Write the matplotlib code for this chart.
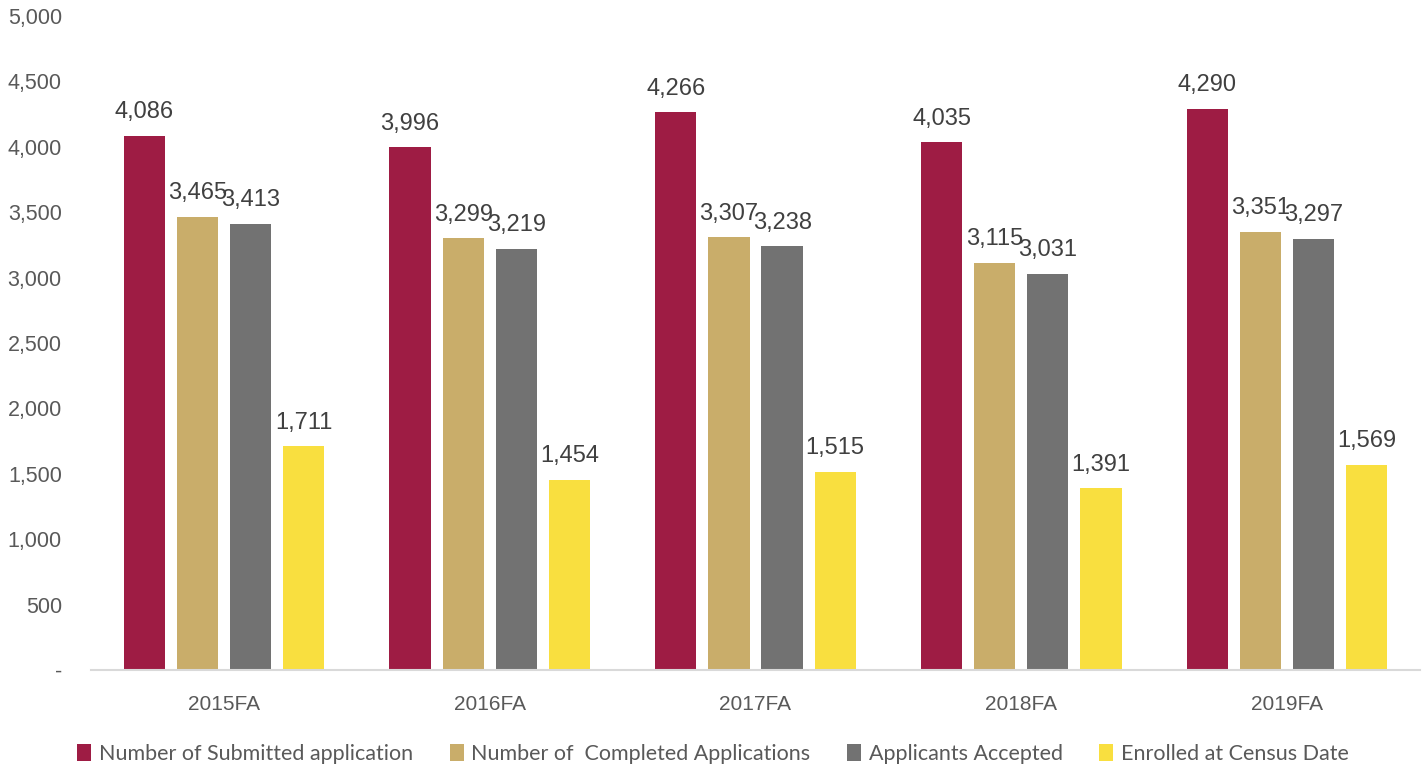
import matplotlib
matplotlib.use("Agg")
import matplotlib.pyplot as plt
from matplotlib.patches import Patch
import numpy as np

terms = ["2015FA", "2016FA", "2017FA", "2018FA", "2019FA"]
submitted = [4086, 3996, 4266, 4035, 4290]
completed = [3465, 3299, 3307, 3115, 3351]
accepted = [3413, 3219, 3238, 3031, 3297]
enrolled = [1711, 1454, 1515, 1391, 1569]

series_names = ["Number of Submitted application", "Number of  Completed Applications",
                "Applicants Accepted", "Enrolled at Census Date"]
colors = ["#9E1C44", "#C9AD6A", "#727272", "#F9DF3F"]
yticks = [0, 500, 1000, 1500, 2000, 2500, 3000, 3500, 4000, 4500, 5000]

text_color = "#595959"
fig = plt.figure(figsize=(14.26, 7.7), dpi=100)
ax = fig.add_axes([91 / 1426, 100 / 770, 1329 / 1426, 654 / 770])

x = np.arange(len(terms))
offsets = [-0.3, -0.1, 0.1, 0.3]
width = 0.155
for vals, off, col in zip([submitted, completed, accepted, enrolled], offsets, colors):
    bars = ax.bar(x + off, vals, width=width, color=col, zorder=2)
    for b, v in zip(bars, vals):
        ax.annotate(f"{v:,}", (b.get_x() + b.get_width() / 2, v), xytext=(0, 9),
                    textcoords="offset points", ha="center", va="bottom",
                    fontsize=17, color="#404040", family="Liberation Sans")

ax.set_xlim(-0.5, len(terms) - 0.5)
ax.set_ylim(0, 5000)
ax.set_yticks(yticks)
ax.set_yticklabels(["-" if t == 0 else f"{t:,}" for t in yticks],
                   fontsize=15.5, color=text_color, family="Liberation Sans")
ax.set_xticks(x)
ax.set_xticklabels(terms, fontsize=15, color=text_color, family="Liberation Sans")
ax.tick_params(axis="both", length=0)
ax.tick_params(axis="y", pad=21)
ax.tick_params(axis="x", pad=18)
for s in ["top", "right", "left"]:
    ax.spines[s].set_visible(False)
ax.spines["bottom"].set_color("#D9D9D9")
ax.spines["bottom"].set_linewidth(1.5)

handles = [Patch(facecolor=c, edgecolor="none") for c in colors]
leg = fig.legend(handles, series_names, loc="center", bbox_to_anchor=(0.5, 1 - 754 / 770),
                 ncol=4, frameon=False, handlelength=0.65, handleheight=0.85,
                 handletextpad=0.35, columnspacing=1.7, prop={"family": "Lato", "size": 15.5})
for t in leg.get_texts():
    t.set_color(text_color)

fig.savefig("out.png", dpi=100)
